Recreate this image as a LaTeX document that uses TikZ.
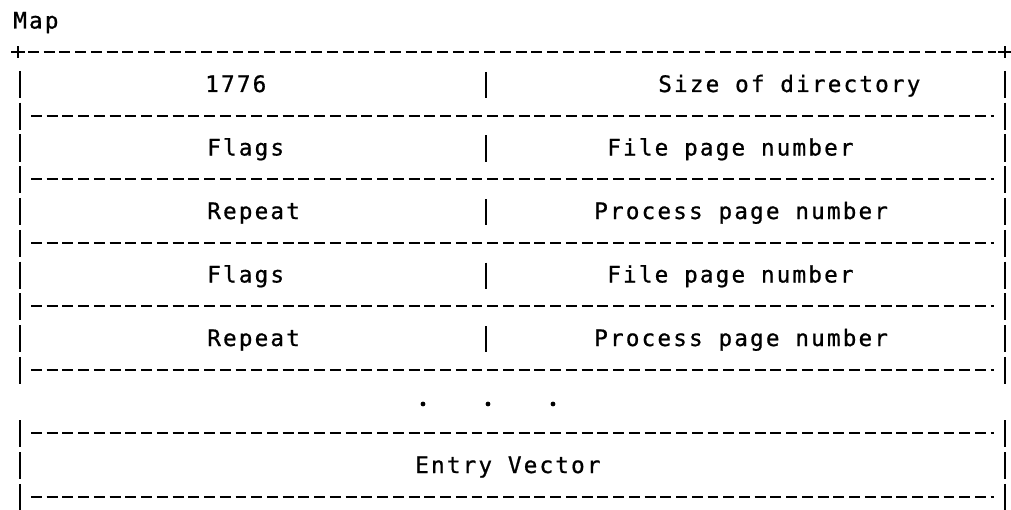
\documentclass[tikz,border=0pt]{standalone}
\usepackage{fontspec}
\newfontfamily\asciifont[LetterSpace=9.5,FakeBold=0.8]{DejaVu Sans Mono}
\begin{document}
\begin{tikzpicture}[x=0.75pt,y=-0.75pt,
  txt/.style={font=\asciifont\fontsize{17}{20}\selectfont, anchor=base west, inner sep=0pt},
  rule/.style={line width=1.8pt, dash pattern=on 8.2pt off 3.6pt},
  bar/.style={line width=1.7pt},
  dotmark/.style={circle, fill=black, inner sep=0pt, minimum size=3.6pt}]
\useasboundingbox (0,0) rectangle (1011,510);
\def\yl#1{20.5+31.75*#1}
% top border with plus signs
\draw[bar] (11,{\yl{1}}) -- (25,{\yl{1}}) (18,{\yl{1}-6}) -- (18,{\yl{1}+6});
\draw[bar] (998,{\yl{1}}) -- (1011,{\yl{1}}) (1005,{\yl{1}-6}) -- (1005,{\yl{1}+6});
\draw[rule] (28,{\yl{1}}) -- (996,{\yl{1}});
% inner dashed rules
\foreach \i in {3,5,7,9,11,13,15}
  \draw[rule] (31,{\yl{\i}}) -- (994,{\yl{\i}});
% side bars
\foreach \i in {2,...,11,13,14,15}{
  \draw[bar] (20,{\yl{\i}-13}) -- (20,{\yl{\i}+14});
  \draw[bar] (1005,{\yl{\i}-13}) -- (1005,{\yl{\i}+14});
}
% middle bars
\foreach \i in {2,4,6,8,10}
  \draw[bar] (486,{\yl{\i}-12}) -- (486,{\yl{\i}+14});
% texts
\node[txt] (map) at (13,{\yl{0}+8}) {Map};
\node[txt] (r1l) at (205,{\yl{2}+8}) {1776};
\node[txt] (r1r) at (658,{\yl{2}+8}) {Size of directory};
\node[txt] (r2l) at (207,{\yl{4}+8}) {Flags};
\node[txt] (r2r) at (607,{\yl{4}+8}) {File page number};
\node[txt] (r3l) at (207,{\yl{6}+8}) {Repeat};
\node[txt] (r3r) at (594,{\yl{6}+8}) {Process page number};
\node[txt] (r4l) at (207,{\yl{8}+8}) {Flags};
\node[txt] (r4r) at (607,{\yl{8}+8}) {File page number};
\node[txt] (r5l) at (207,{\yl{10}+8}) {Repeat};
\node[txt] (r5r) at (594,{\yl{10}+8}) {Process page number};
\node[dotmark] (d1) at (423,404) {};
\node[dotmark] (d2) at (488,404) {};
\node[dotmark] (d3) at (553,404) {};
\node[txt] (entry) at (415,{\yl{14}+8}) {Entry Vector};
\end{tikzpicture}
\end{document}
